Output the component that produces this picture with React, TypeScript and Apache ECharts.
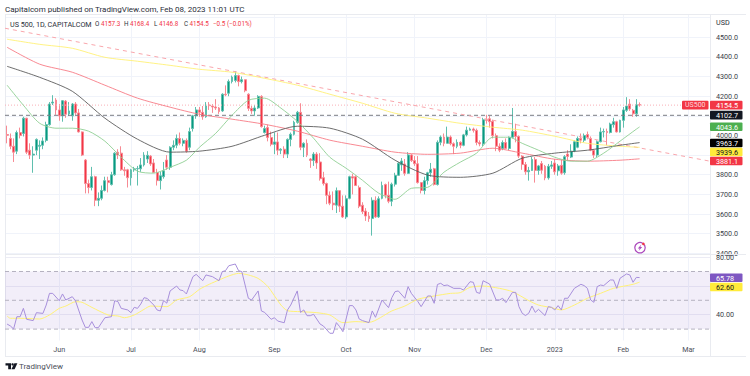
import React, { useEffect, useRef } from "react";
import * as echarts from "echarts";

// Each row: open, high, low, close
const barsMay = [[4005,4050,3960,4001],[3985,4010,3930,3945],[3945,3985,3865,3915],[3920,4025,3905,4015],[4015,4040,3985,4000],[4010,4095,3995,4088],[4088,4090,3905,3915],[3925,3960,3880,3900],[3900,3945,3810,3905],[3925,3985,3900,3980],[3945,3975,3880,3950],[3950,3990,3930,3972],[3975,4070,3965,4055],[4055,4170,4050,4160],[4165,4205,4155,4170],[4180,4190,4105,4130]];
const barsJun = [[4130,4160,4075,4100],[4100,4180,4070,4177],[4175,4180,4090,4108],[4110,4170,4100,4125],[4100,4165,4075,4160],[4160,4170,4105,4115],[4115,4135,4015,4018],[4018,4020,3895,3900],[3875,3880,3705,3755],[3755,3775,3705,3735],[3735,3840,3720,3790],[3790,3795,3640,3670],[3670,3710,3640,3680],[3680,3745,3670,3720],[3720,3790,3715,3770],[3770,3790,3710,3760],[3750,3815,3745,3800],[3800,3915,3795,3910],[3915,3930,3880,3900],[3910,3945,3820,3825],[3825,3840,3795,3820],[3825,3830,3735,3785]];
const barsJul = [[3785,3830,3745,3825],[3825,3840,3815,3830],[3830,3845,3745,3832],[3830,3885,3815,3850],[3850,3915,3842,3900],[3880,3920,3860,3899],[3895,3900,3845,3855],[3860,3880,3810,3812],[3812,3830,3745,3770],[3770,3815,3725,3795],[3790,3865,3780,3820],[3875,3900,3825,3838],[3838,3945,3825,3940],[3940,3975,3925,3950],[3950,4005,3935,3985],[3985,4015,3950,3960],[3960,3985,3945,3975],[3975,3985,3912,3920],[3940,4040,3925,4020],[4035,4105,4020,4100],[4100,4145,4085,4130]];
const barsAug = [[4130,4145,4095,4118],[4118,4150,4080,4095],[4095,4170,4090,4150],[4155,4170,4130,4152],[4150,4160,4115,4145],[4145,4185,4130,4140],[4140,4145,4110,4122],[4125,4215,4120,4210],[4210,4255,4200,4207],[4215,4285,4200,4275],[4275,4305,4265,4297],[4280,4327,4270,4305],[4305,4310,4250,4274],[4274,4300,4265,4284],[4284,4285,4220,4228],[4210,4215,4125,4138],[4138,4150,4110,4125],[4125,4155,4100,4140],[4140,4205,4135,4199],[4199,4205,4040,4045],[4015,4050,4010,4035],[4040,4055,3970,3990],[3990,4020,3945,3955]];
const barsSep = [[3955,4015,3905,3967],[3967,4015,3900,3925],[3925,3935,3905,3930],[3930,3945,3885,3905],[3905,3985,3885,3980],[3980,4015,3945,4006],[4006,4075,4000,4067],[4067,4125,4060,4118],[4118,4164,3925,3940],[3940,3965,3890,3960],[3960,3980,3890,3900],[3880,3885,3835,3873],[3873,3915,3845,3905],[3905,3915,3830,3860],[3865,3910,3770,3780],[3785,3815,3745,3755],[3755,3760,3650,3695],[3695,3715,3645,3655],[3655,3715,3620,3647],[3645,3735,3605,3719],[3719,3720,3610,3640],[3640,3695,3580,3585]];
const barsOct = [[3585,3695,3575,3678],[3680,3795,3675,3790],[3790,3805,3700,3783],[3790,3797,3745,3745],[3735,3745,3630,3640],[3645,3660,3600,3612],[3615,3630,3565,3590],[3590,3610,3560,3577],[3577,3685,3490,3670],[3670,3690,3580,3585],[3585,3690,3580,3678],[3680,3765,3675,3745],[3750,3755,3680,3695],[3695,3765,3655,3665],[3665,3760,3640,3752],[3752,3810,3740,3797],[3797,3865,3795,3859],[3850,3885,3820,3870],[3855,3880,3795,3807],[3807,3915,3805,3901],[3901,3905,3865,3872]];
const barsNov = [[3872,3895,3845,3856],[3856,3895,3755,3760],[3760,3760,3705,3720],[3720,3790,3700,3770],[3770,3815,3750,3810],[3810,3860,3790,3828],[3830,3835,3745,3750],[3750,3975,3745,3965],[3965,4000,3950,3992],[3992,4010,3945,3960],[3960,4045,3960,3992],[3992,4000,3950,3958],[3958,3965,3905,3945],[3945,3980,3935,3965],[3965,3970,3935,3950],[3950,4008,3945,4003],[4003,4045,3995,4027],[4027,4040,4025,4033],[4033,4040,4015,4026],[4026,4035,3950,3964],[3964,3975,3945,3957],[3957,4090,3945,4080]];
const barsDec = [[4080,4105,4060,4077],[4085,4100,4040,4070],[4072,4080,3985,3999],[3999,4010,3920,3945],[3945,3960,3915,3925],[3933,3975,3925,3964],[3964,3985,3930,3934],[3934,3995,3925,3991],[3991,4140,3985,4020],[4020,4060,3965,3995],[3995,4000,3885,3895],[3895,3900,3825,3852],[3852,3865,3800,3815],[3815,3840,3770,3822],[3822,3890,3820,3878],[3878,3890,3760,3822],[3822,3850,3800,3845],[3857,3870,3805,3823],[3843,3850,3772,3784],[3784,3855,3775,3843],[3843,3870,3830,3850]];
const barsJan = [[3860,3880,3800,3815],[3820,3855,3795,3845],[3848,3875,3800,3808],[3810,3900,3800,3892],[3905,3925,3870,3893],[3890,3955,3885,3920],[3920,3975,3915,3968],[3940,3995,3935,3985],[3985,4010,3960,3976],[3976,4010,3965,4000],[4005,4020,3980,3990],[3985,3995,3920,3925],[3925,3930,3885,3900],[3900,3975,3890,3968],[3968,4040,3965,4018],[4018,4035,3990,4020],[4020,4035,3950,4015],[4015,4065,4010,4058],[4055,4090,4040,4070],[4070,4075,4015,4018],[4018,4080,4015,4077]];
const barsFeb = [[4077,4145,4040,4130],[4128,4195,4120,4150],[4160,4185,4125,4135],[4128,4135,4095,4110],[4110,4185,4095,4156],[4157.3,4168.4,4146.8,4154.5]];
const allBars = [...barsMay, ...barsJun, ...barsJul, ...barsAug, ...barsSep, ...barsOct, ...barsNov, ...barsDec, ...barsJan, ...barsFeb];

const tickBars = [16, 38, 59, 82, 104, 125, 147, 168, 189, 209];
const tickNames = ["Jun", "Jul", "Aug", "Sep", "Oct", "Nov", "Dec", "2023", "Feb", "Mar"];

const slowBars = [0,10,20,30,40,50,59,69,79,89,99,109,119,129,139,149,158,168,178,188,194];
const yellowMa = [4490,4464,4444,4398,4378,4357,4337,4322,4291,4256,4210,4164,4113,4088,4062,4042,4027,3996,3960,3945,3939.6];
const redMa = [4449,4363,4322,4256,4190,4144,4108,4083,4057,4022,3976,3945,3915,3904,3910,3935,3910,3879,3869,3874,3881.1];
const blackMa = [4352,4296,4225,4088,3981,3915,3920,3945,4001,4047,4037,3981,3874,3798,3787,3808,3884,3910,3925,3950,3963.7];
const greenBars = [0,5,10,15,20,25,30,35,40,45,50,55,59,64,69,74,79,84,89,94,99,104,109,114,119,124,129,134,139,144,149,154,158,163,168,173,178,183,188,193,194];
const greenMa = [4256,4154,4062,4037,4037,4022,3971,3889,3818,3808,3838,3874,3940,4011,4103,4179,4190,4139,4072,3986,3889,3833,3772,3706,3675,3731,3736,3813,3864,3910,3991,3991,3960,3925,3889,3869,3869,3910,3971,4032,4043.6];
const trendBars = [-0.64, 215.6];
const trendLine = [4546, 3869];
const lastPrice = 4154.5;
const keyLevel = 4102.7;

const rsiBars = [0,1,2,3,4,5,6,8,9,11,12,13,14,16,17,18,20,21,23,24,25,26,27,28,30,32,33,34,35,37,38,39,40,41,42,43,45,46,47,48,49,50,52,53,54,55,57,58,60,61,63,65,66,67,68,70,71,72,74,75,77,78,79,81,82,83,85,86,87,89,90,91,92,93,94,96,97,99,100,101,102,103,105,106,107,108,109,111,112,113,115,117,118,119,120,122,123,124,126,127,129,130,131,132,133,134,135,137,139,140,142,143,144,145,146,148,150,151,152,153,155,156,157,158,159,160,161,162,163,165,166,167,168,169,170,171,172,174,176,177,178,179,180,181,182,183,185,186,187,188,190,191,192,193,194];
const rsiVals = [33.5,32.2,30.1,38.6,38.6,44.4,36.8,35.9,41.4,40.9,46.7,54.8,54.8,49.7,54.4,50.2,52.5,49.5,36.3,31.2,31.2,35.2,31,31,37.9,38.6,49.7,49.1,44.4,43.3,41.4,45.1,44.4,47.4,51.8,51.3,46.7,43.3,42.6,49.9,48,56.5,59.9,57.2,56.7,54.4,66.4,68,63.6,67.6,66.4,63.6,69.9,70.6,74,75.2,70.6,69.9,51.4,50.2,56.5,42.6,41.6,36.8,37.9,35.6,34.4,43.3,46.7,56.5,41.6,43.3,39.3,39.3,40.3,33.5,32.2,27.1,27.1,34.5,31.7,28.2,46.3,46.3,43.3,37,35.9,34.5,42.6,38.2,50.2,44.9,51.8,56,56.5,51.4,59.5,54.8,49.1,45.6,53,53,47.9,61,61.8,60.2,60.6,58.3,58.3,57.1,62.9,62.5,55.5,54.8,63.6,61.3,50.2,50.2,51.4,48.4,55.5,55.5,45.6,41,39.4,41,46,41.6,43.7,39.4,45.6,45.1,43.3,46.3,43.3,51.4,51.4,58.3,61.1,60.2,58.3,50.2,48.6,59.5,60.6,60.2,64.1,64.1,58.3,65.3,68.3,67.6,62.5,65.9,65.78];
const rsiMaBars = [0,1,4,10,13,16,18,21,23,26,31,34,36,39,42,44,49,52,56,59,62,65,68,71,74,77,80,84,86,90,95,99,103,107,111,118,122,126,131,136,139,142,146,151,155,160,163,167,170,174,178,182,186,192,194];
const rsiMaVals = [39.1,37.5,37.5,37,39.8,44.4,46,49,48.6,45.1,39.8,39.1,37.9,39.8,43.7,46,45.6,50.2,52.5,57.6,61.1,64.1,66.9,68.7,67.6,65.2,59.5,46.7,42.8,42.1,41.4,39.8,34.5,35.2,34.7,42.6,46,50.7,53,54.8,55.3,59,59.9,58.3,56,49.8,46.7,44.9,43.3,46.7,51.4,54.8,58.3,61.1,62.6];
const rsiLevels = [70, 50, 30];

const X_MIN = -0.64;
const X_MAX = 215.6;
const pairs = (xs: number[], ys: number[]) => xs.map((x, i) => [x, ys[i]]);
const FONT = "Roboto, 'Noto Sans', sans-serif";
const txt = (x: number, y: number, text: string, fill: string, size = 8, weight = "normal", align = "left") => ({
  type: "text", z: 30,
  style: { x, y, text, fill, font: `${weight} ${size}px ${FONT}`, align, verticalAlign: "middle" },
});
const box = (x: number, y: number, w: number, h: number, fill: string) => ({
  type: "rect", z: 29, shape: { x, y, width: w, height: h, r: 1 }, style: { fill },
});
const AXIS_SIZE = 7.2;
const axisBadge = (y: number, text: string, fill: string, color: string) => [
  box(710, y - 4.3, 32.5, 8.6, fill), txt(716, y + 0.3, text, color, AXIS_SIZE),
];
const rule = (x1: number, y1: number, x2: number, y2: number) => ({
  type: "line", z: 1, shape: { x1, y1, x2, y2 }, style: { stroke: "#e9ebf0", lineWidth: 1 },
});
const maLine = (name: string, data: number[][], color: string, width = 0.9) => ({
  type: "line", name, data, xAxisIndex: 0, yAxisIndex: 0, showSymbol: false, symbol: "none", smooth: 0.25,
  silent: true, z: 5, lineStyle: { color, width },
});
const levelLine = (name: string, value: number, color: string, type: number[], pane = 0) => ({
  type: "line", name, data: [[X_MIN, value], [X_MAX, value]], xAxisIndex: pane, yAxisIndex: pane,
  showSymbol: false, symbol: "none", silent: true, z: 4, lineStyle: { color, width: 1, type },
});

export default function App() {
  const ref = useRef<HTMLDivElement>(null);
  useEffect(() => {
    const chart = echarts.init(ref.current!, undefined, { renderer: "svg" });
    const xBase = {
      type: "value", min: X_MIN, max: X_MAX,
      axisLine: { show: false },
      splitLine: { show: true, lineStyle: { color: "#f0f3fa", width: 1 } },
    };
    const titleSize = 7.2;
    const valueSize = 6.3;
    chart.setOption({
      animation: false,
      backgroundColor: "#ffffff",
      grid: [
        { left: 5, right: 40, top: 14, height: 239.3 },
        { left: 5, right: 40, top: 256, height: 84.5 },
      ],
      xAxis: [
        { ...xBase, gridIndex: 0, axisLabel: { show: false }, axisTick: { show: false, customValues: tickBars } },
        {
          ...xBase, gridIndex: 1,
          axisTick: { show: false, customValues: tickBars },
          axisLabel: {
            show: true, customValues: tickBars, margin: 5, fontSize: AXIS_SIZE, fontFamily: FONT, color: "#4a4e59",
            formatter: (v: number) => tickNames[tickBars.indexOf(v)] ?? "",
          },
        },
      ],
      yAxis: [
        {
          type: "value", gridIndex: 0, position: "right", min: 3400, max: 4618.5, interval: 100,
          axisLine: { show: false }, axisTick: { show: false },
          splitLine: { lineStyle: { color: "#f0f3fa", width: 1 } },
          axisLabel: {
            margin: 6, fontSize: AXIS_SIZE, fontFamily: FONT, color: "#3a3e49", showMaxLabel: false,
            formatter: (v: number) => ([4100, 3900, 4600].includes(v) || v > 4600 ? "" : v.toFixed(1)),
          },
        },
        {
          type: "value", gridIndex: 1, position: "right", min: 22.08, max: 80.76,
          axisLine: { show: false },
          axisTick: { show: false, customValues: [40, 60, 80] },
          splitLine: { lineStyle: { color: "#ececf5", width: 1 } },
          axisLabel: {
            margin: 6, fontSize: AXIS_SIZE, fontFamily: FONT, color: "#3a3e49", customValues: [40, 80],
            formatter: (v: number) => v.toFixed(2),
          },
        },
      ],
      series: [
        {
          type: "candlestick", xAxisIndex: 0, yAxisIndex: 0, barWidth: 2.4, silent: true, z: 3,
          encode: { x: 0, y: [1, 2, 3, 4] },
          data: allBars.map((b, i) => [i, b[0], b[3], b[2], b[1]]),
          itemStyle: { color: "#089981", color0: "#f23645", borderColor: "#5fbfae", borderColor0: "#f78a93", borderWidth: 1 },
        },
        levelLine("Last", lastPrice, "#f9b0b6", [1, 2]),
        levelLine("Level", keyLevel, "#7a7c84", [4, 3]),
        maLine("MA200", pairs(slowBars, yellowMa), "#fff176"),
        maLine("MA100", pairs(slowBars, redMa), "#f77c86"),
        maLine("MA50", pairs(slowBars, blackMa), "#5c5c5c"),
        maLine("MA20", pairs(greenBars, greenMa), "#8fcf93"),
        {
          type: "line", name: "Trend", data: pairs(trendBars, trendLine), xAxisIndex: 0, yAxisIndex: 0, silent: true,
          showSymbol: false, symbol: "none", z: 4, lineStyle: { color: "#f9a6ac", width: 1, type: [4, 4] },
        },
        {
          type: "line", name: "RSI", data: pairs(rsiBars, rsiVals), xAxisIndex: 1, yAxisIndex: 1, silent: true,
          showSymbol: false, symbol: "none", z: 6, lineStyle: { color: "#a78fdb", width: 1 },
          markArea: {
            silent: true, itemStyle: { color: "rgba(126,87,194,0.1)" },
            data: [[{ yAxis: rsiLevels[0] }, { yAxis: rsiLevels[2] }]],
          },
        },
        ...rsiLevels.map((v) => levelLine(`RSI ${v}`, v, "#b5b2c0", [4, 3], 1)),
        {
          type: "line", name: "RSI MA", data: pairs(rsiMaBars, rsiMaVals), xAxisIndex: 1, yAxisIndex: 1, silent: true,
          showSymbol: false, symbol: "none", smooth: 0.25, z: 5, lineStyle: { color: "#fff176", width: 1 },
        },
      ],
      graphic: [
        rule(5, 14.5, 746, 14.5), rule(5, 254.5, 746, 254.5), rule(5, 356.5, 746, 356.5),
        rule(5.5, 14, 5.5, 356), rule(710.5, 14, 710.5, 356),
        txt(5, 9, "Capitalcom published on TradingView.com, Feb 08, 2023 11:01 UTC", "#2a2e39"),
        txt(10, 24, "US 500, 1D, CAPITALCOM", "#2a2e39", titleSize),
        txt(95, 24, "O", "#2a2e39", valueSize), txt(101, 24, "4157.3", "#f23645", valueSize),
        txt(124, 24, "H", "#2a2e39", valueSize), txt(130, 24, "4168.4", "#f23645", valueSize),
        txt(154, 24, "L", "#2a2e39", valueSize), txt(159, 24, "4146.8", "#f23645", valueSize),
        txt(184, 24, "C", "#2a2e39", valueSize), txt(189.5, 24, "4154.5", "#f23645", valueSize),
        txt(213, 24, "−0.5 (−0.01%)", "#f23645", valueSize),
        txt(716, 22, "USD", "#2a2e39", AXIS_SIZE),
        box(682, 100.8, 26.5, 8.6, "#f23645"), txt(685, 105.4, "US500", "#ffd9dc", 7),
        ...axisBadge(105.1, "4154.5", "#f23645", "#ffffff"),
        ...axisBadge(115.1, "4102.7", "#131722", "#ffffff"),
        ...axisBadge(126.7, "4043.6", "#4caf50", "#ffffff"),
        ...axisBadge(143, "3963.7", "#000000", "#ffffff"),
        ...axisBadge(152, "3939.6", "#ffeb3b", "#131722"),
        ...axisBadge(161, "3881.1", "#f23645", "#ffffff"),
        ...axisBadge(277.7, "65.78", "#7e57c2", "#ffffff"),
        ...axisBadge(287, "62.60", "#ffeb3b", "#131722"),
        { type: "circle", z: 29, shape: { cx: 640, cy: 247.7, r: 5.2 }, style: { fill: "#ffffff", stroke: "#ab47bc", lineWidth: 1.2 } },
        { type: "polygon", z: 30, shape: { points: [[641.5, 244.3], [637.8, 248.4], [639.7, 248.4], [638.6, 251], [642.2, 246.9], [640.3, 246.9]] }, style: { fill: "#ab47bc" } },
        { type: "circle", z: 31, shape: { cx: 643.4, cy: 243.9, r: 1.3 }, style: { fill: "#f23645" } },
        { type: "polygon", z: 30, shape: { points: [[5.5, 363.2], [11, 363.2], [11, 369.3], [8.2, 369.3], [8.2, 365.6], [5.5, 365.6]] }, style: { fill: "#131722" } },
        { type: "circle", z: 30, shape: { cx: 12.6, cy: 364.4, r: 1.2 }, style: { fill: "#131722" } },
        { type: "polygon", z: 30, shape: { points: [[14.4, 363.2], [17.4, 363.2], [14.6, 369.3], [11.4, 369.3]] }, style: { fill: "#131722" } },
        txt(19, 366.5, "TradingView", "#4a4e59", 8),
      ],
    });
    return () => chart.dispose();
  }, []);
  return <div ref={ref} style={{ position: "fixed", left: 0, top: 0, width: 750, height: 376, background: "#fff" }} />;
}
